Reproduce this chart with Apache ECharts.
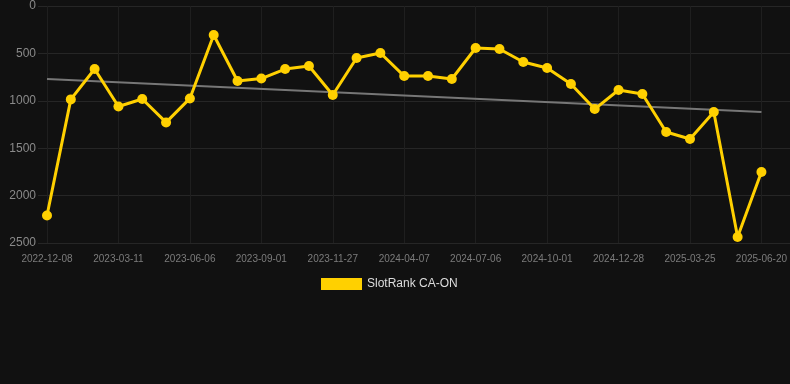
<!DOCTYPE html>
<html>
<head>
<meta charset="utf-8">
<script src="https://cdn.jsdelivr.net/npm/echarts@6/dist/echarts.min.js"></script>
<style>
html,body{margin:0;padding:0;background:#111111;}
#c{width:790px;height:384px;}
</style>
</head>
<body>
<div id="c"></div>
<script>
var categories = [
  '2022-12-08','2023-01-08','2023-02-09','2023-03-11','2023-04-08','2023-05-07',
  '2023-06-06','2023-07-05','2023-08-03','2023-09-01','2023-09-30','2023-10-29',
  '2023-11-27','2024-01-10','2024-02-23','2024-04-07','2024-05-07','2024-06-06',
  '2024-07-06','2024-08-04','2024-09-02','2024-10-01','2024-10-30','2024-11-28',
  '2024-12-28','2025-01-26','2025-02-24','2025-03-25','2025-04-23','2025-05-22',
  '2025-06-20'
];
var rankValues = [
  2210, 985, 665, 1060, 981, 1228,
  975, 306, 791, 765, 665, 633,
  939, 549, 496, 739, 739, 770,
  443, 454, 591, 654, 823, 1087,
  886, 928, 1329, 1403, 1118, 2437,
  1751
];
var trendStart = 770;
var trendEnd = 1118;
var yTicks = [0, 500, 1000, 1500, 2000, 2500];
var seriesName = 'SlotRank CA-ON';

var font = 'Liberation Sans, Arial, sans-serif';
var chart = echarts.init(document.getElementById('c'), null, {renderer: 'canvas'});
chart.setOption({
  backgroundColor: '#111111',
  animation: false,
  textStyle: {fontFamily: font},
  grid: [
    {left: 47, right: 28, top: 6, bottom: 141},
    {left: 38, right: 0, top: 6, bottom: 141}
  ],
  legend: {
    data: [seriesName],
    left: 316, top: 273,
    itemWidth: 41, itemHeight: 12, itemGap: 6,
    icon: 'rect',
    textStyle: {color: '#dddddd', fontSize: 12, fontFamily: font}
  },
  xAxis: [
    {
      gridIndex: 0, type: 'category', data: categories, boundaryGap: false,
      axisLine: {show: false}, axisTick: {show: false},
      axisLabel: {interval: 2, color: '#7c7c7c', fontSize: 10, margin: 11, fontFamily: font},
      splitLine: {show: true, interval: 2, lineStyle: {color: '#1f1f1f', width: 1}}
    },
    {gridIndex: 1, type: 'value', show: false, min: 0, max: 1}
  ],
  yAxis: [
    {gridIndex: 0, type: 'value', inverse: true, min: yTicks[0], max: yTicks[yTicks.length-1], interval: 500, show: false},
    {
      gridIndex: 1, type: 'value', inverse: true, min: yTicks[0], max: yTicks[yTicks.length-1], interval: 500,
      axisLine: {show: false}, axisTick: {show: false},
      axisLabel: {color: '#8a8a8a', fontSize: 12, margin: 2, fontFamily: font,
        formatter: function (v) { return String(v); }},
      splitLine: {show: true, lineStyle: {color: '#262626', width: 1}}
    }
  ],
  series: [
    {
      name: 'trend', type: 'line', xAxisIndex: 0, yAxisIndex: 0,
      data: [[categories[0], trendStart], [categories[categories.length-1], trendEnd]],
      symbol: 'none', silent: true,
      lineStyle: {color: '#777777', width: 2}, z: 2
    },
    {
      name: seriesName, type: 'line', xAxisIndex: 0, yAxisIndex: 0,
      data: rankValues,
      symbol: 'circle', symbolSize: 10,
      itemStyle: {color: '#ffd000'},
      lineStyle: {color: '#ffd000', width: 3}, z: 3
    }
  ]
});
</script>
</body>
</html>
